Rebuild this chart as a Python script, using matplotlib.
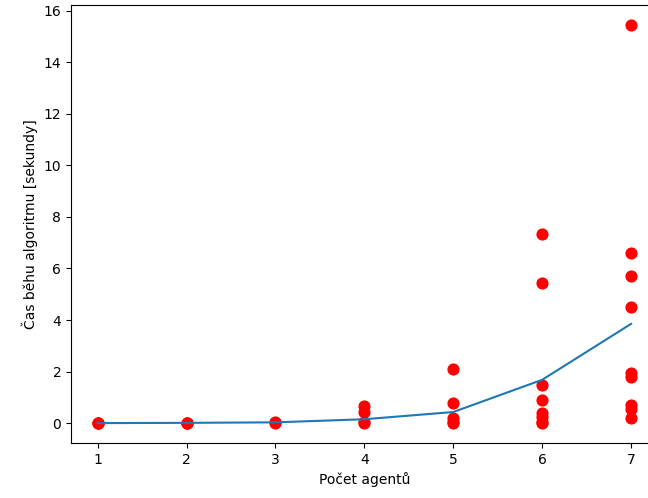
import matplotlib
matplotlib.use("Agg")
import matplotlib.pyplot as plt

agents = [1, 2, 3, 4, 5, 6, 7]
mean_time = [0.0, 0.01, 0.03, 0.15, 0.43, 1.68, 3.85]

# individual runs (agents, seconds)
run_x = [1, 1, 1, 2, 2, 2, 3, 3,
         4, 4, 4, 4,
         5, 5, 5, 5, 5,
         6, 6, 6, 6, 6, 6, 6, 6,
         7, 7, 7, 7, 7, 7, 7, 7, 7]
run_y = [0.0, 0.0, 0.01, 0.0, 0.01, 0.02, 0.02, 0.04,
         0.66, 0.45, 0.05, 0.0,
         2.1, 0.77, 0.2, 0.05, 0.0,
         7.35, 5.45, 1.47, 0.9, 0.4, 0.25, 0.05, 0.0,
         15.45, 6.6, 5.7, 4.5, 1.95, 1.8, 0.7, 0.55, 0.18]

fig, ax = plt.subplots(figsize=(6.48, 4.98), dpi=100)
# the original is cropped on the right, so the axes runs past the edge
fig.subplots_adjust(left=0.1096, right=1.015, top=0.99, bottom=0.1104)
ax.scatter(run_x, run_y, color="red", s=60)
ax.plot(agents, mean_time)
ax.set_xlabel("Počet agentů")
ax.set_ylabel("Čas běhu algoritmu [sekundy]")
fig.savefig("out.png")
